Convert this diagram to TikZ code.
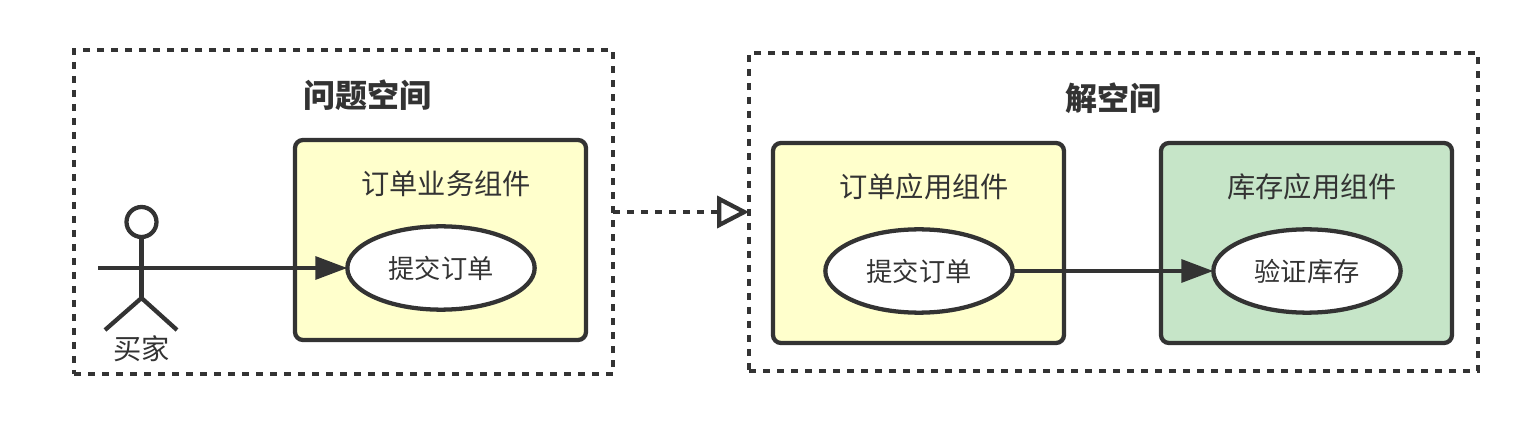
\documentclass[tikz,border=0pt]{standalone}
\usepackage{fontspec}
\setmainfont{Noto Sans CJK SC}
\usetikzlibrary{arrows.meta,shapes.geometric,positioning}
\definecolor{ink}{HTML}{333333}
\definecolor{paleyellow}{HTML}{FFFFCC}
\definecolor{palegreen}{HTML}{C6E5C8}
\tikzset{
  x=0.75pt,y=-0.75pt,
  every node/.style={text=ink,inner sep=0pt,outer sep=0pt},
  strokeline/.style={draw=ink,line width=3.2pt},
  groupbox/.style={strokeline,line width=3.4pt,rectangle,minimum width=#1,dash pattern=on 5pt off 5.5pt},
  compbox/.style={strokeline,rectangle,rounded corners=6pt,minimum width=218.25pt,minimum height=150pt},
  usecase/.style={strokeline,ellipse,fill=white,minimum width=140.5pt,minimum height=62.5pt,font=\fontsize{19.7}{24}\selectfont},
  grouptitle/.style={font=\fontsize{24}{29}\selectfont\bfseries},
  comptitle/.style={font=\fontsize{21.2}{25}\selectfont},
  flow/.style={strokeline,-{Triangle[length=24pt,width=17pt,fill=ink]}},
  realize/.style={strokeline,line width=3.4pt,dash pattern=on 5pt off 5.5pt,-{Triangle[open,length=24pt,width=24pt,fill=white,line width=3.2pt]}},
}
\begin{document}
\begin{tikzpicture}
\useasboundingbox (0,0) rectangle (1529,424);
% group boxes
\node[groupbox=404.25pt,minimum height=243pt] (problem) at (343.5,212) {};
\node[groupbox=546.75pt,minimum height=238.5pt] (solution) at (1113.5,212) {};
\node[grouptitle] (problemT) at (367.5,95) {问题空间};
\node[grouptitle] (solutionT) at (1113,98) {解空间};
% components
\node[compbox,fill=paleyellow] (order1) at (440.5,240) {};
\node[comptitle] (order1T) at (446,184) {订单业务组件};
\node[usecase] (submit1) at (441,268) {提交订单};
\node[compbox,fill=paleyellow] (order2) at (918.5,243) {};
\node[comptitle] (order2T) at (924,187) {订单应用组件};
\node[usecase] (submit2) at (919,271) {提交订单};
\node[compbox,fill=palegreen] (stock) at (1306.5,243) {};
\node[comptitle] (stockT) at (1312,187) {库存应用组件};
\node[usecase] (verify) at (1307,271) {验证库存};
% actor
\node[strokeline,circle,fill=white,minimum size=22.5pt] (head) at (141.5,222) {};
\coordinate (hip) at (141.5,298);
\coordinate (armL) at (98,268);
\coordinate (armR) at (185,268);
\coordinate (legL) at (105,330);
\coordinate (legR) at (177,330);
\draw[strokeline] (head.south) -- (hip);
\draw[strokeline] (armL) -- (armR);
\draw[strokeline] (legL) -- (hip) -- (legR);
\node[font=\fontsize{21.2}{25}\selectfont] (buyer) at (141.5,349) {买家};
% connectors
\draw[flow] (armR) -- (submit1.west);
\draw[flow] (submit2.east) -- (verify.west);
\draw[realize] (problem.east |- 0,212) -- (solution.west |- 0,212);
\end{tikzpicture}
\end{document}
